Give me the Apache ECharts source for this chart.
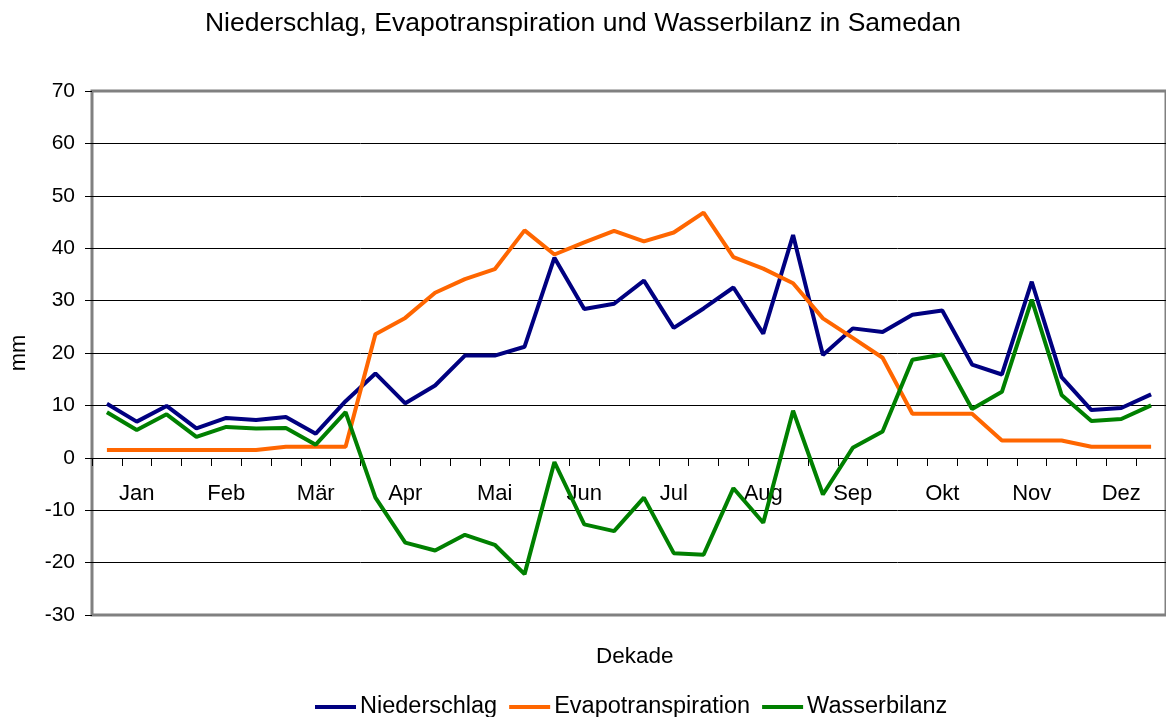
<!DOCTYPE html>
<html>
<head>
<meta charset="utf-8">
<title>Niederschlag Samedan</title>
<script src="https://cdn.jsdelivr.net/npm/echarts@6/dist/echarts.min.js"></script>
<style>
  html, body { margin: 0; padding: 0; background: #fff; }
  #main { width: 1166px; height: 717px; }
</style>
</head>
<body>
<div id="main"></div>
<script>
// Monatsnamen, je Monat drei Dekaden
var monate = ['Jan', 'Feb', 'Mär', 'Apr', 'Mai', 'Jun', 'Jul', 'Aug', 'Sep', 'Okt', 'Nov', 'Dez'];
var dekaden = [];
for (var i = 1; i <= 36; i++) dekaden.push(String(i));

// Werte in mm, pro Dekade
var niederschlag = [10.3, 6.9, 9.9, 5.6, 7.6, 7.2, 7.8, 4.6, 10.8, 16.1, 10.4, 13.8,
  19.5, 19.5, 21.2, 38.2, 28.4, 29.4, 33.8, 24.8, 28.5, 32.5, 23.7, 42.5,
  19.6, 24.7, 24.0, 27.3, 28.1, 17.8, 15.9, 33.6, 15.4, 9.1, 9.5, 12.1];
var evapotranspiration = [1.5, 1.5, 1.5, 1.5, 1.5, 1.5, 2.1, 2.1, 2.1, 23.6, 26.7, 31.5,
  34.1, 36.0, 43.4, 38.8, 41.1, 43.3, 41.3, 43.0, 46.8, 38.3, 36.1, 33.3,
  26.6, 22.9, 19.1, 8.4, 8.4, 8.4, 3.3, 3.3, 3.3, 2.1, 2.1, 2.1];
var wasserbilanz = [8.7, 5.3, 8.3, 4.0, 5.9, 5.6, 5.7, 2.5, 8.7, -7.6, -16.2, -17.7,
  -14.7, -16.6, -22.2, -0.8, -12.7, -14.0, -7.6, -18.2, -18.5, -5.8, -12.4, 9.0,
  -7.0, 1.9, 5.0, 18.7, 19.7, 9.3, 12.6, 30.2, 12.0, 7.0, 7.4, 10.0];

var schrift = 'Liberation Sans, Arial, sans-serif';

var myChart = echarts.init(document.getElementById('main'));
var option = {
  animation: false,
  title: [{
    text: 'Niederschlag, Evapotranspiration und Wasserbilanz in Samedan',
    left: 'center',
    top: 5,
    textStyle: { fontFamily: schrift, fontSize: 26.5, fontWeight: 'normal', color: '#000' }
  }, {
    text: 'Dekade',
    left: 591,
    top: 640,
    textStyle: { fontFamily: schrift, fontSize: 22.5, fontWeight: 'normal', color: '#000' }
  }],
  legend: {
    left: 310,
    top: 690,
    icon: 'rect',
    itemWidth: 41,
    itemHeight: 4,
    itemGap: 12,
    textStyle: { fontFamily: schrift, fontSize: 23.5, color: '#000', padding: [0, 0, 0, -1] },
    data: ['Niederschlag', 'Evapotranspiration', 'Wasserbilanz']
  },
  grid: {
    left: 92,
    right: -1,
    top: 91,
    bottom: 102,
    show: true,
    borderColor: '#808080',
    borderWidth: 3
  },
  xAxis: {
    type: 'category',
    data: dekaden,
    boundaryGap: true,
    position: 'bottom',
    // Achse auf die Nulllinie schieben (-30..70 über 524 px)
    offset: -157,
    axisLine: { onZero: false, lineStyle: { color: '#000', width: 1 } },
    axisTick: { show: true, interval: 0, length: 8, lineStyle: { color: '#000' } },
    axisLabel: {
      interval: function (idx) { return idx % 3 === 1; },
      formatter: function (val, idx) { return monate[Math.floor(idx / 3)]; },
      margin: 25,
      fontFamily: schrift,
      fontSize: 22,
      color: '#000'
    },
    splitLine: { show: false }
  },
  yAxis: {
    type: 'value',
    min: -30,
    max: 70,
    interval: 10,
    name: 'mm',
    nameLocation: 'middle',
    nameGap: 62,
    nameTextStyle: { fontFamily: schrift, fontSize: 22, color: '#000' },
    axisLine: { show: false },
    axisTick: { show: true, length: 7, lineStyle: { color: '#000' } },
    axisLabel: { margin: 17, fontFamily: schrift, fontSize: 21, color: '#000' },
    splitLine: { show: true, showMinLine: false, showMaxLine: false, lineStyle: { color: '#000', width: 1 } }
  },
  series: [{
    name: 'Niederschlag',
    type: 'line',
    data: niederschlag,
    symbol: 'none',
    color: '#000080',
    lineStyle: { width: 4, color: '#000080' }
  }, {
    name: 'Evapotranspiration',
    type: 'line',
    data: evapotranspiration,
    symbol: 'none',
    color: '#FF6600',
    lineStyle: { width: 4, color: '#FF6600' }
  }, {
    name: 'Wasserbilanz',
    type: 'line',
    data: wasserbilanz,
    symbol: 'none',
    color: '#008000',
    lineStyle: { width: 4, color: '#008000' }
  }]
};
myChart.setOption(option);
</script>
</body>
</html>
